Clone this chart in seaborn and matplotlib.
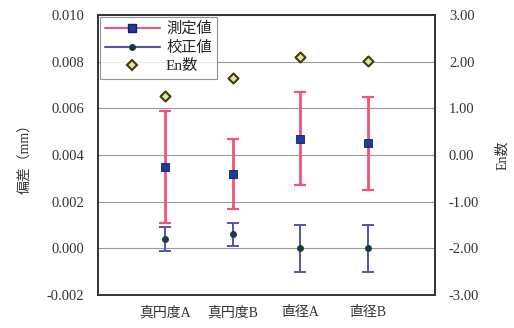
import numpy as np
import pandas as pd
import matplotlib
matplotlib.use("Agg")
import matplotlib.pyplot as plt
import seaborn as sns
from matplotlib.lines import Line2D

categories = ["真円度A", "真円度B", "直径A", "直径B"]
measured = [0.0035, 0.0032, 0.0047, 0.0045]
measured_err = [0.0024, 0.0015, 0.0020, 0.0020]
calibrated = [0.0004, 0.0006, 0.0000, 0.0000]
calibrated_err = [0.0005, 0.0005, 0.0010, 0.0010]
en_values = [1.27, 1.64, 2.09, 2.01]

left_ticks = [-0.002, 0.000, 0.002, 0.004, 0.006, 0.008, 0.010]
right_ticks = [-3.0, -2.0, -1.0, 0.0, 1.0, 2.0, 3.0]

sns.set_theme(style="white")
fam = ["Liberation Serif", "Noto Sans CJK JP"]
plt.rcParams["font.family"] = fam

df = pd.DataFrame({"cat": categories, "x": np.arange(len(categories)),
                   "measured": measured, "calibrated": calibrated, "en": en_values})

fig = plt.figure(figsize=(5.14, 3.28), dpi=100)
ax = fig.add_axes([98 / 514, 33 / 328, 337 / 514, 280 / 328])
ax2 = ax.twinx()

pink = "#ee5577"
navy = "#1f3a99"
slate = "#5454a8"
teal = "#1c3b38"

ax.errorbar(df["x"], df["measured"], yerr=measured_err, fmt="none",
            ecolor=pink, elinewidth=2.0, capsize=4, capthick=1.6, zorder=3)
ax.errorbar(df["x"], df["calibrated"], yerr=calibrated_err, fmt="none",
            ecolor=slate, elinewidth=1.4, capsize=4, capthick=1.4, zorder=3)
sns.scatterplot(data=df, x="x", y="measured", ax=ax, marker="s", s=36,
                color=navy, edgecolor="#102060", linewidth=0.6, zorder=4, legend=False)
sns.scatterplot(data=df, x="x", y="calibrated", ax=ax, marker="o", s=20,
                color=teal, edgecolor=teal, linewidth=0.5, zorder=4, legend=False)
sns.scatterplot(data=df, x="x", y="en", ax=ax2, marker="D", s=26,
                color="#e6e2a0", edgecolor="#3e3e0c", linewidth=1.5, zorder=4, legend=False)

ax.set_xlim(-1, 4)
ax.set_ylim(-0.002, 0.010)
ax2.set_ylim(-3, 3)
ax.set_yticks(left_ticks)
ax.set_yticklabels([f"{v:.3f}" for v in left_ticks])
ax2.set_yticks(right_ticks)
ax2.set_yticklabels([f"{v:.2f}" for v in right_ticks])
ax.set_xticks(df["x"])
ax.set_xticklabels(categories)
ax.set_xlabel("")
ax.set_ylabel("偏差（mm）", fontsize=10, labelpad=10, color="#333333")
ax2.set_ylabel("En数", fontsize=10, labelpad=12, color="#333333")

ax.yaxis.grid(True, color="#999999", linewidth=0.8)
ax.set_axisbelow(True)
for a in (ax, ax2):
    for s in a.spines.values():
        s.set_color("#333333")
        s.set_linewidth(1.2)
ax.tick_params(axis="y", labelsize=10.5, colors="#333333", length=0, pad=10)
ax.tick_params(axis="x", labelsize=10, colors="#333333", direction="in", length=3, pad=8)
ax2.tick_params(axis="y", labelsize=10.5, colors="#333333", length=0, pad=10)
ax2.set_xlabel("")

handles = [
    Line2D([], [], color=pink, lw=1.5, marker="s", markersize=5.5,
           markerfacecolor=navy, markeredgecolor="#102060"),
    Line2D([], [], color=slate, lw=1.5, marker="o", markersize=4,
           markerfacecolor=teal, markeredgecolor=teal),
    Line2D([], [], color="none", marker="D", markersize=5,
           markerfacecolor="#e6e2a0", markeredgecolor="#3e3e0c", markeredgewidth=1.5),
]
leg = ax2.legend(handles, ["測定値", "校正値", "En数"], loc="upper left",
                 bbox_to_anchor=(0.0, 1.0), fontsize=11, frameon=True, fancybox=False,
                 borderpad=0.35, labelspacing=0.3, handlelength=3.6, handletextpad=0.4,
                 borderaxespad=0.1)
leg.get_frame().set_edgecolor("#777777")
leg.get_frame().set_linewidth(0.8)

fig.savefig("out.png", dpi=100)
